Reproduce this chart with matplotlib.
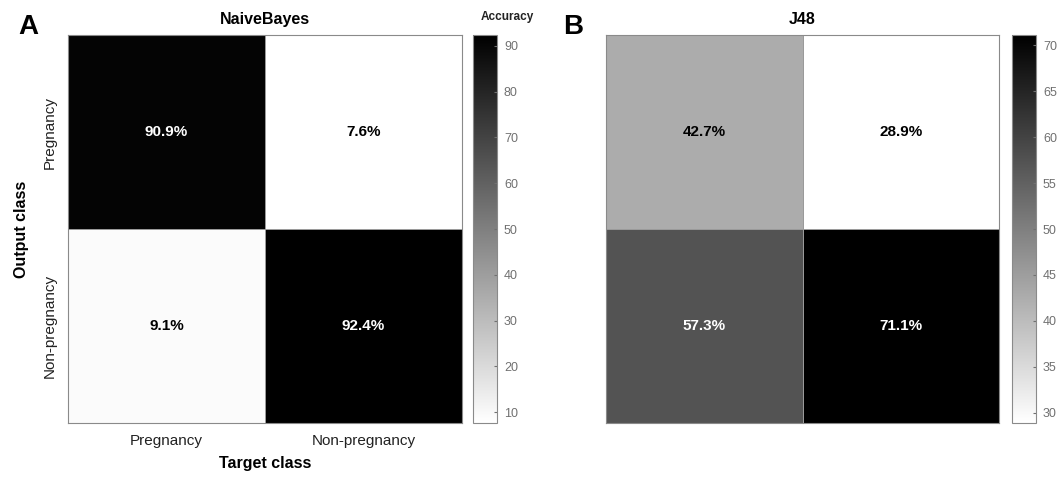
import matplotlib.pyplot as plt
import numpy as np

plt.rcParams['font.family'] = ['Liberation Sans', 'DejaVu Sans']

classes = ["Pregnancy", "Non-pregnancy"]
# rows = output class, cols = target class
naive_bayes = np.array([[90.9, 7.6],
                        [9.1, 92.4]])
j48 = np.array([[42.7, 28.9],
                [57.3, 71.1]])

fig = plt.figure(figsize=(10.63, 4.79), dpi=100)

W, H = 1063.0, 479.0


def px(x0, y0, x1, y1):
    return [x0 / W, 1 - y1 / H, (x1 - x0) / W, (y1 - y0) / H]


def panel(ax, cax, data, title, ticks, show_labels):
    vmin, vmax = data.min(), data.max()
    mesh = ax.pcolormesh(data, cmap="gray_r", vmin=vmin, vmax=vmax,
                         edgecolors="#9a9a9a", linewidth=0.4)
    ax.set_xlim(0, 2)
    ax.set_ylim(2, 0)
    for i in range(2):
        for j in range(2):
            v = data[i, j]
            frac = (v - vmin) / (vmax - vmin)
            col = "white" if frac > 0.5 else "black"
            ax.text(j + 0.5, i + 0.5, f"{v:.1f}%", ha="center", va="center",
                    fontsize=11, fontweight="bold", color=col)
    for s in ax.spines.values():
        s.set_color("#8a8a8a")
    ax.set_title(title, fontsize=11.5, fontweight="bold", pad=8)
    ax.tick_params(length=0)
    if show_labels:
        ax.set_xticks([0.5, 1.5])
        ax.set_xticklabels(classes, fontsize=11, color="#222222")
        ax.tick_params(axis="x", pad=8)
        ax.set_yticks([0.5, 1.5])
        ax.set_yticklabels(classes, fontsize=11, rotation=90, va="center",
                           color="#222222")
        ax.tick_params(axis="y", pad=8)
        ax.set_xlabel("Target class", fontsize=11.5, fontweight="bold",
                      labelpad=6)
        ax.set_ylabel("Output class", fontsize=11.5, fontweight="bold",
                      labelpad=10)
    else:
        ax.set_xticks([])
        ax.set_yticks([])

    cb = fig.colorbar(mesh, cax=cax, ticks=ticks)
    cb.outline.set_edgecolor("#8a8a8a")
    cb.ax.tick_params(labelsize=9, colors="#707070", length=2, direction="in",
                      pad=5)
    return cb


axA = fig.add_axes(px(68, 35, 462, 423))
caxA = fig.add_axes(px(473, 35, 497, 423))
axB = fig.add_axes(px(606, 35, 999, 423))
caxB = fig.add_axes(px(1012, 35, 1036, 423))

panel(axA, caxA, naive_bayes, "NaiveBayes", range(10, 100, 10), True)
panel(axB, caxB, j48, "J48", range(30, 75, 5), False)

fig.text(28 / W, 1 - 27 / H, "A", fontsize=20, fontweight="bold",
         ha="center", va="center")
fig.text(573 / W, 1 - 27 / H, "B", fontsize=20, fontweight="bold",
         ha="center", va="center")
fig.text(507 / W, 1 - 17 / H, "Accuracy", fontsize=8.5, fontweight="bold",
         ha="center", va="center", color="#222222")

fig.savefig("out.png", dpi=100)
